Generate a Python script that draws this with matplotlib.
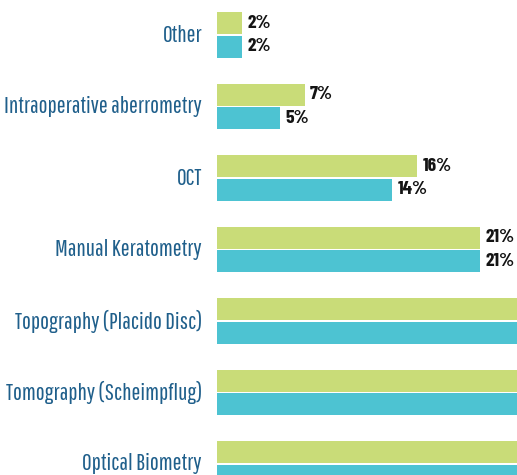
import matplotlib.pyplot as plt
import numpy as np

categories = ["Other", "Intraoperative aberrometry", "OCT", "Manual Keratometry",
              "Topography (Placido Disc)", "Tomography (Scheimpflug)", "Optical Biometry"]
series_a = [2, 7, 16, 21, 38, 45, 85]   # green
series_b = [2, 5, 14, 21, 36, 48, 88]   # cyan

green = "#c9dc78"
cyan = "#4dc3d2"
label_color = "#1f5f8b"
x_max = 24

fig = plt.figure(figsize=(5.17, 4.75), dpi=100)
ax = fig.add_axes([217 / 517, 0, 1 - 217 / 517, 1])

y = np.arange(len(categories))
h = 0.308
off = 0.164
bars_a = ax.barh(y - off, series_a, height=h, color=green)
bars_b = ax.barh(y + off, series_b, height=h, color=cyan)

# value labels, only where the bar ends inside the visible area
for bars, vals in ((bars_a, series_a), (bars_b, series_b)):
    for b, v in zip(bars, vals):
        if v + 2.5 > x_max:
            continue
        ax.text(v + 0.45, b.get_y() + b.get_height() / 2, f"{v}%", va="center", ha="left",
                fontsize=14, fontweight="bold", family=["Barlow Condensed", "DejaVu Sans"],
                color="#141414")

for yi, c in zip(y, categories):
    ax.text(-1.2, yi, c, ha="right", va="center", fontsize=17,
            family=["Pathway Gothic One", "DejaVu Sans"], color=label_color, clip_on=False)

ax.set_xlim(0, x_max)
ax.set_ylim(6.154, -0.49)
ax.axis("off")

fig.savefig("out.png", dpi=100)
